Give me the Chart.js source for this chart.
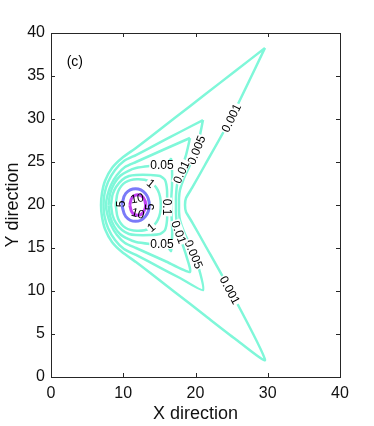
<!DOCTYPE html>
<html>
<head>
<meta charset="utf-8">
<script src="https://cdn.jsdelivr.net/npm/chart.js@4.4.0/dist/chart.umd.min.js"></script>
<style>
  html, body { margin: 0; padding: 0; background: #fff; }
</style>
</head>
<body>
<canvas id="myChart" width="374" height="426"></canvas>
<script>

// contour levels, each line is a list of [x, y] points
const levels = ['0.001', '0.005', '0.01', '0.05', '0.1', '1', '5', '10'];

const c0001 = [[29.62,38.26],[25.47,35.55],[21.31,32.85],[17.16,30.14],[13.70,27.88],[11.76,26.63],[9.83,25.47],[8.44,24.30],[7.47,22.79],[7.06,21.40],[6.92,20.00],[7.06,18.60],[7.47,17.21],[8.44,15.70],[9.83,14.53],[11.76,13.37],[13.70,12.12],[17.16,9.86],[21.31,7.15],[25.47,4.45],[29.62,1.98],[24.78,10.12],[21.31,15.35],[19.52,18.02],[18.69,19.19],[18.55,20.00],[18.69,20.81],[19.52,21.98],[21.31,24.65],[24.78,29.88],[29.62,38.26]];

const c0005 = [[21.04,29.88],[17.85,28.49],[15.09,27.27],[11.76,25.81],[10.10,25.12],[8.86,24.07],[7.89,22.67],[7.40,21.28],[7.27,20.00],[7.40,18.72],[7.89,17.33],[8.86,15.93],[10.10,14.88],[11.76,14.19],[15.09,12.73],[17.85,11.51],[21.04,10.12],[20.21,13.37],[19.24,15.35],[18.41,16.86],[17.85,18.26],[17.72,19.19],[17.72,20.00],[17.72,20.81],[17.85,21.74],[18.41,23.14],[19.24,24.65],[20.21,26.63],[21.04,29.88]];

const c001 = [[19.24,27.79],[15.78,26.51],[11.76,25.00],[10.24,24.42],[9.13,23.49],[8.30,22.33],[7.82,21.16],[7.61,20.00],[7.82,18.84],[8.30,17.67],[9.13,16.51],[10.24,15.58],[11.76,15.00],[15.78,13.49],[19.24,12.21],[18.69,14.19],[17.99,15.93],[17.44,17.67],[17.30,19.07],[17.30,20.00],[17.30,20.93],[17.44,22.33],[17.99,24.07],[18.69,25.81],[19.24,27.79]];

const c005 = [[7.96,20.00],[8.17,21.28],[8.72,22.44],[9.55,23.37],[10.66,23.95],[11.76,24.30],[13.70,24.53],[15.36,24.65],[16.19,24.88],[16.61,25.35],[16.75,24.07],[16.75,22.33],[16.61,20.00],[16.75,17.67],[16.75,15.93],[16.61,14.65],[16.19,15.12],[15.36,15.35],[13.70,15.47],[11.76,15.70],[10.66,16.05],[9.55,16.63],[8.72,17.56],[8.17,18.72],[7.96,20.00]];

const c01 = [[8.30,20.00],[8.51,21.16],[9.00,22.09],[9.83,22.91],[10.80,23.37],[11.76,23.49],[13.70,23.49],[15.09,23.37],[15.78,22.91],[16.06,21.74],[16.06,20.00],[16.06,18.26],[15.78,17.09],[15.09,16.63],[13.70,16.51],[11.76,16.51],[10.80,16.63],[9.83,17.09],[9.00,17.91],[8.51,18.84],[8.30,20.00]];

const c1 = [[8.95,20.00],[9.30,21.60],[10.30,22.65],[11.90,23.00],[13.60,22.75],[14.80,21.70],[15.20,20.00],[14.80,18.30],[13.60,17.25],[11.90,17.00],[10.30,17.35],[9.30,18.40],[8.95,20.00]];

const c5 = [[9.80,20.00],[10.35,21.35],[11.70,21.90],[13.05,21.35],[13.60,20.00],[13.05,18.65],[11.70,18.10],[10.35,18.65],[9.80,20.00]];

const c10 = [[10.90,20.00],[11.22,20.85],[12.00,21.20],[12.78,20.85],[13.10,20.00],[12.78,19.15],[12.00,18.80],[11.22,19.15],[10.90,20.00]];

const contourLines = [c0001, c0005, c001, c005, c01, c1, c5, c10];

// inline labels: text and where it sits on its line
const labelText = ['0.001','0.001','0.005','0.005','0.01','0.01','0.05','0.05','0.1','1','1','5','5','10','10'];
const labelPos = [[24.91,30.12],[24.78,10.12],[20.07,26.40],[19.79,14.30],[17.99,23.84],[17.72,16.86],[15.36,24.65],[15.36,15.47],[16.06,19.77],[13.84,22.56],[13.84,17.44],[9.62,20.12],[13.66,19.77],[11.90,20.80],[12.04,19.05]];
const labelAngle = [-64, 62, -68, 67, -65, 70, 0, 0, 90, 40, -40, -90, -90, -10, 15];

const panelTag = '(c)';
const panelPos = [3.3, 36.6];

const lineColors = ['#7ff7d9','#7ff7d9','#7ff7d9','#7ff7d9','#7ff7d9','#7ff7d9','#7a7af8','#c040f0'];

const fontFam = '"Liberation Sans", Arial, sans-serif';

const datasets = contourLines.map((pts, i) => ({
  label: levels[i],
  data: pts.map(p => ({ x: p[0], y: p[1] })),
  showLine: true,
  borderColor: lineColors[i],
  borderWidth: i >= 6 ? 3 : 2.5,
  pointRadius: 0,
  tension: i >= 5 ? 0.4 : 0.2,
  fill: false
}));

const contourExtras = {
  id: 'contourExtras',
  afterDatasetsDraw(chart) {
    const ctx = chart.ctx;
    const xs = chart.scales.x, ys = chart.scales.y;
    const a = chart.chartArea;
    ctx.save();
    ctx.font = '12px ' + fontFam;
    ctx.textAlign = 'center';
    ctx.textBaseline = 'middle';
    labelText.forEach((t, i) => {
      const px = xs.getPixelForValue(labelPos[i][0]);
      const py = ys.getPixelForValue(labelPos[i][1]);
      ctx.save();
      ctx.translate(px, py);
      ctx.rotate(labelAngle[i] * Math.PI / 180);
      const w = ctx.measureText(t).width;
      // break the cyan lines under their labels, not the small rings
      if (i < 11) {
        ctx.fillStyle = '#fff';
        ctx.fillRect(-w / 2 - 1, -5, w + 2, 10);
      }
      ctx.fillStyle = '#000';
      ctx.fillText(t, 0, 1);
      ctx.restore();
    });

    ctx.font = '14px ' + fontFam;
    ctx.fillStyle = '#000';
    ctx.fillText(panelTag, xs.getPixelForValue(panelPos[0]), ys.getPixelForValue(panelPos[1]));

    // box and inward ticks
    ctx.strokeStyle = '#262626';
    ctx.lineWidth = 1;
    ctx.strokeRect(a.left + 0.5, a.top + 0.5, a.right - a.left, a.bottom - a.top);
    ctx.beginPath();
    xs.ticks.forEach(tk => {
      const px = Math.round(xs.getPixelForValue(tk.value)) + 0.5;
      ctx.moveTo(px, a.bottom); ctx.lineTo(px, a.bottom - 4);
      ctx.moveTo(px, a.top); ctx.lineTo(px, a.top + 4);
    });
    ys.ticks.forEach(tk => {
      const py = Math.round(ys.getPixelForValue(tk.value)) + 0.5;
      ctx.moveTo(a.left, py); ctx.lineTo(a.left + 4, py);
      ctx.moveTo(a.right, py); ctx.lineTo(a.right - 4, py);
    });
    ctx.stroke();
    ctx.restore();
  }
};

const config = {
  type: 'scatter',
  data: { datasets: datasets },
  options: {
    responsive: false,
    animation: false,
    devicePixelRatio: 1,
    layout: { padding: { left: 0, top: 33, right: 34, bottom: 0 } },
    scales: {
      x: {
        type: 'linear',
        min: 0,
        max: 40,
        afterFit(s) { s.height = 49; },
        grid: { display: false, drawTicks: false },
        border: { display: false },
        ticks: {
          stepSize: 10,
          padding: 7,
          color: '#111',
          font: { family: fontFam, size: 16 }
        },
        title: {
          display: true,
          text: 'X direction',
          color: '#111',
          font: { family: fontFam, size: 18 },
          padding: { top: 0, bottom: 1 }
        }
      },
      y: {
        type: 'linear',
        min: 0,
        max: 40,
        afterFit(s) { s.width = 51; },
        grid: { display: false, drawTicks: false },
        border: { display: false },
        ticks: {
          stepSize: 5,
          padding: 6,
          color: '#111',
          font: { family: fontFam, size: 16 }
        },
        title: {
          display: true,
          text: 'Y direction',
          color: '#111',
          font: { family: fontFam, size: 18 },
          padding: { top: 2, bottom: 0 }
        }
      }
    },
    plugins: {
      legend: { display: false },
      tooltip: { enabled: false }
    }
  },
  plugins: [contourExtras]
};

let myChart = new Chart(document.getElementById('myChart'), config);
</script>
</body>
</html>
